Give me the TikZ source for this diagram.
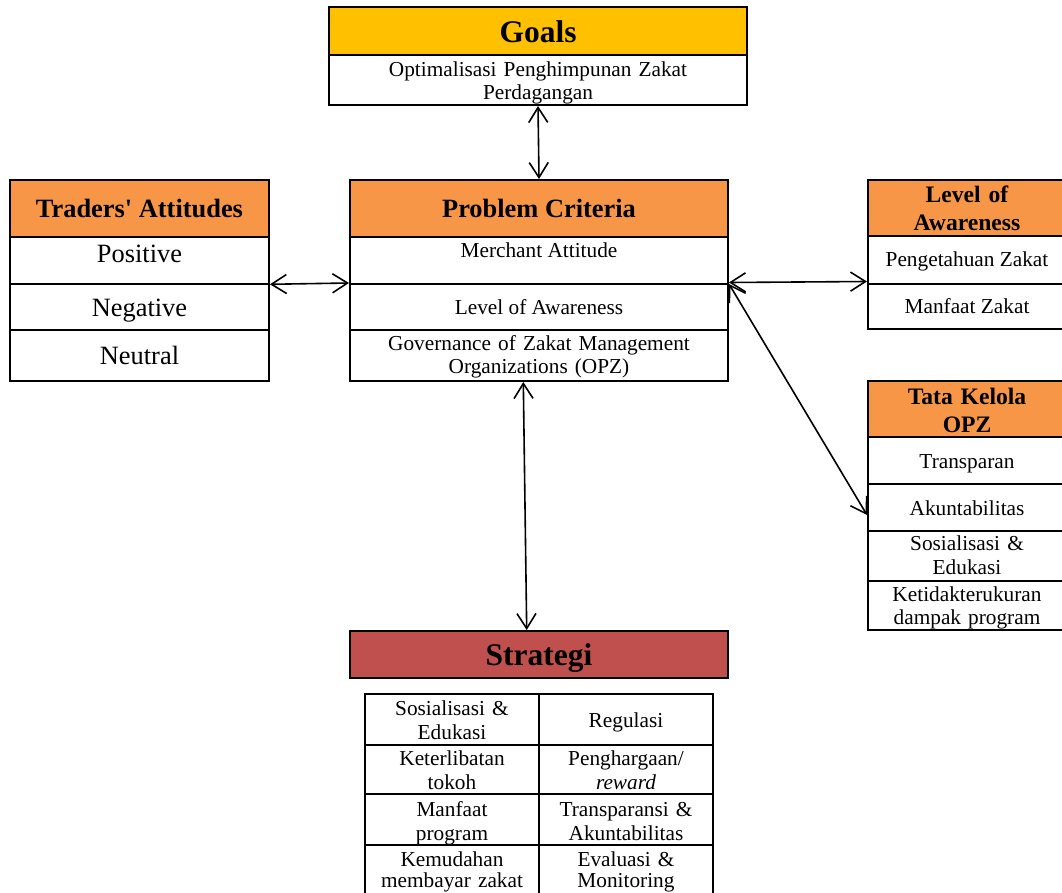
\documentclass[tikz,border=0pt]{standalone}
\usepackage{fontspec}
\setmainfont{Liberation Serif}
\usetikzlibrary{arrows.meta,fit}
\definecolor{goalc}{HTML}{FFC000}
\definecolor{orgc}{HTML}{F79646}
\definecolor{redc}{HTML}{C0504D}
\newcommand\fsz[2]{\fontsize{#1}{#2}\selectfont}
\begin{document}
\begin{tikzpicture}[x=1pt,y=-1pt,
  cell/.style={draw, line width=2pt, inner sep=0pt, fill=white},
  ycell/.style={cell, fill=goalc},
  ocell/.style={cell, fill=orgc},
  rcell/.style={cell, fill=redc},
  txt/.style={inner sep=0pt, anchor=base, font=\fsz{21.3}{23.5}},
  big/.style={inner sep=0pt, anchor=base, font=\fsz{26.4}{29}},
  hdr/.style={inner sep=0pt, anchor=base, font=\bfseries\fsz{26.4}{29}},
  hdrbig/.style={inner sep=0pt, anchor=base, font=\bfseries\fsz{31.5}{35}},
  hdrsm/.style={inner sep=0pt, anchor=base, font=\bfseries\fsz{23.6}{28.4}, text width=190pt, align=center},
  arr/.style={line width=1.6pt, {Straight Barb[length=15pt,width=19pt]}-{Straight Barb[length=15pt,width=19pt]}}
]
\useasboundingbox (0,0) rectangle (1062,893);
\clip (0,0) rectangle (1062,893);
\fill[white] (0,0) rectangle (1062,893);

% Goals
\node[ycell, fit={(329,7) (747,55)}] (goalshead) {};
\node[cell, fit={(329,55) (747,105)}] (goalsbody) {};
\node[hdrbig] (tgoals) at (538,43) {Goals};
\node[txt, text width=410pt, align=center, font=\fsz{21.3}{22.7}] (tgoalsb) at (538,77) {Optimalisasi Penghimpunan Zakat\\Perdagangan};

% Traders' Attitudes
\node[ocell, fit={(10,180) (269,237)}] (trhead) {};
\node[cell, fit={(10,237) (269,284)}] (tr1) {};
\node[cell, fit={(10,284) (269,330)}] (tr2) {};
\node[cell, fit={(10,330) (269,381)}] (tr3) {};
\node[hdr] (ttrhead) at (139.5,218) {Traders\textquotesingle{} Attitudes};
\node[big] (ttr1) at (139.5,262.7) {Positive};
\node[big] (ttr2) at (139.5,316.7) {Negative};
\node[big] (ttr3) at (139.5,364) {Neutral};

% Problem Criteria
\node[ocell, fit={(350,180) (728,237)}] (pchead) {};
\node[cell, fit={(350,237) (728,284)}] (pc1) {};
\node[cell, fit={(350,284) (728,330)}] (pc2) {};
\node[cell, fit={(350,330) (728,381)}] (pc3) {};
\node[hdr] (tpchead) at (539,217.7) {Problem Criteria};
\node[txt] (tpc1) at (539,257.7) {Merchant Attitude};
\node[txt] (tpc2) at (539,314.3) {Level of Awareness};
\node[txt, text width=370pt, align=center, font=\fsz{21.3}{23.5}] (tpc3) at (539,350) {Governance of Zakat Management\\Organizations (OPZ)};

% Level of Awareness
\node[ocell, fit={(868,180) (1066,236)}] (lahead) {};
\node[cell, fit={(868,236) (1066,284)}] (la1) {};
\node[cell, fit={(868,284) (1066,329)}] (la2) {};
\node[hdrsm] (tlahead) at (967,202.3) {Level of\\Awareness};
\node[txt] (tla1) at (967,266.7) {Pengetahuan Zakat};
\node[txt] (tla2) at (967,313.3) {Manfaat Zakat};

% Tata Kelola OPZ
\node[ocell, fit={(868,381) (1066,437)}] (tkhead) {};
\node[cell, fit={(868,437) (1066,484)}] (tk1) {};
\node[cell, fit={(868,484) (1066,531)}] (tk2) {};
\node[cell, fit={(868,531) (1066,581)}] (tk3) {};
\node[cell, fit={(868,581) (1066,630)}] (tk4) {};
\node[hdrsm] (ttkhead) at (967,404) {Tata Kelola\\OPZ};
\node[txt] (ttk1) at (967,468.3) {Transparan};
\node[txt] (ttk2) at (967,515) {Akuntabilitas};
\node[txt, text width=190pt, align=center, font=\fsz{21.3}{24}] (ttk3) at (967,550) {Sosialisasi \&\\Edukasi};
\node[txt, text width=190pt, align=center, font=\fsz{21.3}{22.4}] (ttk4) at (967,601.7) {Ketidakterukuran\\dampak program};

% Strategi
\node[rcell, fit={(350,631) (728,678)}] (sthead) {};
\node[hdrbig] (tsthead) at (539,665.7) {Strategi};

% Strategy table
\node[cell, fit={(365,694) (539,745)}] (s11) {};
\node[cell, fit={(539,694) (713,745)}] (s12) {};
\node[cell, fit={(365,745) (539,794)}] (s21) {};
\node[cell, fit={(539,745) (713,794)}] (s22) {};
\node[cell, fit={(365,794) (539,845)}] (s31) {};
\node[cell, fit={(539,794) (713,845)}] (s32) {};
\node[cell, fit={(365,845) (539,905)}] (s41) {};
\node[cell, fit={(539,845) (713,905)}] (s42) {};
\node[txt, text width=170pt, align=center, font=\fsz{21.3}{24}] (ts11) at (452,715) {Sosialisasi \&\\Edukasi};
\node[txt] (ts12) at (626,727.3) {Regulasi};
\node[txt, text width=170pt, align=center, font=\fsz{21.3}{24}] (ts21) at (452,765.7) {Keterlibatan\\tokoh};
\node[txt, text width=170pt, align=center, font=\fsz{21.3}{24}] (ts22) at (626,765.7) {Penghargaan/\\\textit{reward}};
\node[txt, text width=170pt, align=center, font=\fsz{21.3}{24}] (ts31) at (452,816) {Manfaat\\program};
\node[txt, text width=170pt, align=center, font=\fsz{21.3}{24}] (ts32) at (626,816) {Transparansi \&\\Akuntabilitas};
\node[txt, text width=170pt, align=center, font=\fsz{21.3}{21.6}] (ts41) at (452,866.3) {Kemudahan\\membayar zakat};
\node[txt, text width=170pt, align=center, font=\fsz{21.3}{21.6}] (ts42) at (626,866.3) {Evaluasi \&\\Monitoring};

% Connectors
\draw[arr] (goalsbody.south) -- (pchead.north);
\draw[arr] ([yshift=0.7pt]tr1.south east) -- ([yshift=2pt]pc1.south west);
\draw[arr] ([yshift=2.5pt]pc1.south east) -- ([yshift=3.5pt]la1.south west);
\draw[arr] ([yshift=1pt]pc1.south east) -- ([yshift=-7.5pt]tk2.west);
\draw[arr] ([xshift=-15.7pt]pc3.south) -- ([xshift=-12.3pt]sthead.north);
\end{tikzpicture}
\end{document}
